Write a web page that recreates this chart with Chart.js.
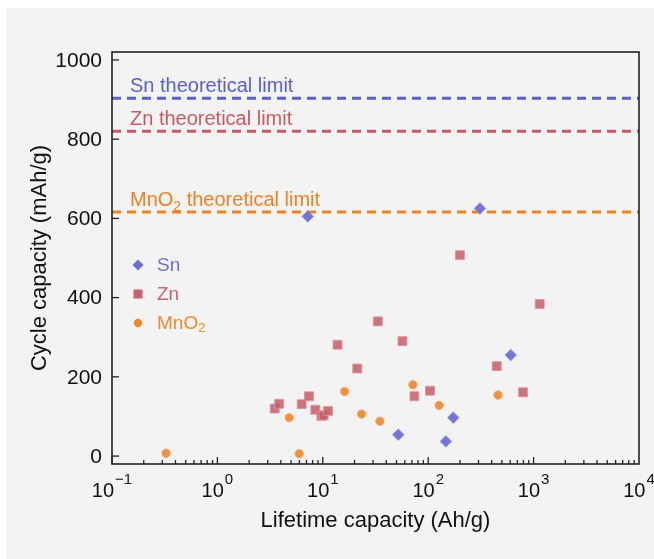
<!DOCTYPE html>
<html>
<head>
<meta charset="utf-8">
<script src="https://cdn.jsdelivr.net/npm/chart.js@4/dist/chart.umd.min.js"></script>
<style>
  html, body { margin: 0; padding: 0; background: #ffffff; }
  canvas { display: block; }
</style>
</head>
<body>
<canvas id="canvas" width="654" height="559"></canvas>
<script>
const canvas = document.getElementById("canvas");
const ctx = canvas.getContext("2d");

// lifetime capacity (Ah/g) vs cycle capacity (mAh/g)
const snX = [7.2, 52, 147, 173, 310, 607];
const snY = [605, 54, 37, 97, 625, 255];
const znX = [3.5, 3.86, 6.3, 7.4, 8.5, 9.7, 10.2, 11.2, 13.8, 21.2, 33.3, 57, 74, 104, 200, 447, 794, 1143];
const znY = [120, 132, 131, 151, 117, 101, 103, 114, 281, 221, 340, 290, 151, 165, 507, 227, 161, 384];
const mnX = [0.326, 4.8, 5.97, 16.1, 23.3, 34.8, 71.6, 127, 460];
const mnY = [7, 97, 6, 163, 106, 88, 180, 128, 154];

// theoretical limits (mAh/g)
const limitNames = ["Sn", "Zn", "MnO2"];
const limitValues = [903, 820, 616];

const xTickExps = [-1, 0, 1, 2, 3, 4];
const yTicks = [0, 200, 400, 600, 800, 1000];

const colSn = "#6c70d0";
const colZn = "#c8646d";
const colMn = "#f0892c";
const lineCols = ["#5b60cd", "#c95a63", "#ee8222"];

const FONT = "'Liberation Sans', Arial, sans-serif";

function toPts(xs, ys) {
  return xs.map((x, i) => ({ x: x, y: ys[i] }));
}

const limitSets = limitValues.map((v, i) => ({
  type: "line",
  data: [{ x: 0.1, y: v }, { x: 10000, y: v }],
  borderColor: lineCols[i],
  borderWidth: 3,
  borderDash: [9, 6],
  pointRadius: 0,
  order: 5,
}));

// draws a label, subscripting a trailing "2" (MnO2)
function drawChem(text, x, y, size) {
  if (text.endsWith("O2")) {
    const base = text.slice(0, -1);
    ctx.font = size + "px " + FONT;
    ctx.fillText(base, x, y);
    const w = ctx.measureText(base).width;
    ctx.font = Math.round(size * 0.7) + "px " + FONT;
    ctx.fillText("2", x + w, y + size * 0.25);
    const w2 = ctx.measureText("2").width;
    return w + w2;
  }
  ctx.font = size + "px " + FONT;
  ctx.fillText(text, x, y);
  return ctx.measureText(text).width;
}

const decorations = {
  id: "decorations",
  beforeDraw(chart) {
    const c = chart.ctx;
    c.save();
    c.fillStyle = "#f3f3f3";
    c.fillRect(6, 8, chart.width - 6, chart.height - 8);
    c.restore();
  },
  afterDraw(chart) {
    const { chartArea: a, scales } = chart;
    const xs = scales.x, ys = scales.y;
    ctx.save();

    // frame
    ctx.strokeStyle = "#222222";
    ctx.lineWidth = 1.6;
    ctx.strokeRect(a.left, a.top, a.right - a.left, a.bottom - a.top);

    // y ticks (inward) and labels
    ctx.lineWidth = 1.3;
    ctx.fillStyle = "#111111";
    ctx.font = "21px " + FONT;
    ctx.textAlign = "right";
    ctx.textBaseline = "middle";
    yTicks.forEach((v) => {
      const py = ys.getPixelForValue(v);
      ctx.beginPath();
      ctx.moveTo(a.left, py);
      ctx.lineTo(a.left + 7, py);
      ctx.stroke();
      ctx.fillText(String(v), a.left - 10, py + 1);
    });

    // x ticks (inward), major + minor
    for (let e = -1; e < 4; e++) {
      for (let m = 1; m <= 9; m++) {
        const px = xs.getPixelForValue(m * Math.pow(10, e));
        const len = m === 1 ? 7 : 4;
        ctx.beginPath();
        ctx.moveTo(px, a.bottom);
        ctx.lineTo(px, a.bottom - len);
        ctx.stroke();
      }
    }

    // x tick labels 10^n, whole label centred on the tick
    ctx.textBaseline = "alphabetic";
    ctx.textAlign = "left";
    xTickExps.forEach((e) => {
      const px = xs.getPixelForValue(Math.pow(10, e));
      ctx.font = "20px " + FONT;
      const wb = ctx.measureText("10").width;
      const sup = e < 0 ? "\u2212" + Math.abs(e) : String(e);
      ctx.font = "15px " + FONT;
      const ws = ctx.measureText(sup).width;
      const x0 = px - (wb + 1 + ws) / 2;
      ctx.font = "20px " + FONT;
      ctx.fillText("10", x0, 497);
      ctx.font = "15px " + FONT;
      ctx.fillText(sup, x0 + wb + 1, 484);
    });

    // axis titles
    ctx.font = "22px " + FONT;
    ctx.textAlign = "center";
    ctx.textBaseline = "alphabetic";
    ctx.fillText("Lifetime capacity (Ah/g)", (a.left + a.right) / 2, 527);
    ctx.save();
    ctx.translate(40, (a.top + a.bottom) / 2);
    ctx.rotate(-Math.PI / 2);
    ctx.textBaseline = "middle";
    ctx.fillText("Cycle capacity (mAh/g)", 0, 0);
    ctx.restore();

    // limit annotations
    ctx.textAlign = "left";
    ctx.textBaseline = "alphabetic";
    limitValues.forEach((v, i) => {
      const py = ys.getPixelForValue(v);
      ctx.fillStyle = lineCols[i];
      const w = drawChem(limitNames[i], 130, py - 6, 20);
      ctx.font = "20px " + FONT;
      ctx.fillText(" theoretical limit", 130 + w, py - 6);
    });

    // legend
    const legend = [
      { name: "Sn", col: colSn, shape: "diamond" },
      { name: "Zn", col: colZn, shape: "square" },
      { name: "MnO2", col: colMn, shape: "circle" },
    ];
    legend.forEach((item, i) => {
      const cx = 138, cy = 265 + i * 29;
      ctx.fillStyle = item.col;
      ctx.beginPath();
      if (item.shape === "diamond") {
        ctx.moveTo(cx, cy - 5.5);
        ctx.lineTo(cx + 5.5, cy);
        ctx.lineTo(cx, cy + 5.5);
        ctx.lineTo(cx - 5.5, cy);
        ctx.closePath();
      } else if (item.shape === "square") {
        ctx.rect(cx - 4.5, cy - 4.5, 9, 9);
      } else {
        ctx.arc(cx, cy, 4.2, 0, 2 * Math.PI);
      }
      ctx.fill();
      ctx.textBaseline = "middle";
      drawChem(item.name, 157, cy + 1, 19);
    });

    ctx.restore();
  },
};

new Chart(canvas, {
  type: "scatter",
  data: {
    datasets: [
      ...limitSets,
      {
        label: "Zn",
        data: toPts(znX, znY),
        pointStyle: "rect",
        pointRadius: 6.3,
        backgroundColor: "rgba(196, 92, 102, 0.85)",
        borderColor: "rgba(220, 150, 156, 0.9)",
        borderWidth: 1,
        order: 3,
      },
      {
        label: "MnO2",
        data: toPts(mnX, mnY),
        pointStyle: "circle",
        pointRadius: 4.2,
        backgroundColor: "rgba(240, 137, 44, 0.92)",
        borderColor: "rgba(244, 170, 110, 0.9)",
        borderWidth: 1,
        order: 2,
      },
      {
        label: "Sn",
        data: toPts(snX, snY),
        pointStyle: "rectRot",
        pointRadius: 5.8,
        backgroundColor: "rgba(104, 108, 206, 0.92)",
        borderColor: "rgba(150, 152, 224, 0.9)",
        borderWidth: 1,
        order: 1,
      },
    ],
  },
  options: {
    responsive: false,
    animation: false,
    devicePixelRatio: 1,
    layout: { padding: { left: 112, top: 52, right: 15, bottom: 95 } },
    plugins: {
      legend: { display: false },
      tooltip: { enabled: false },
    },
    scales: {
      x: { type: "logarithmic", min: 0.1, max: 10000, display: false },
      y: { type: "linear", min: -20, max: 1020, display: false },
    },
  },
  plugins: [decorations],
});
</script>
</body>
</html>
